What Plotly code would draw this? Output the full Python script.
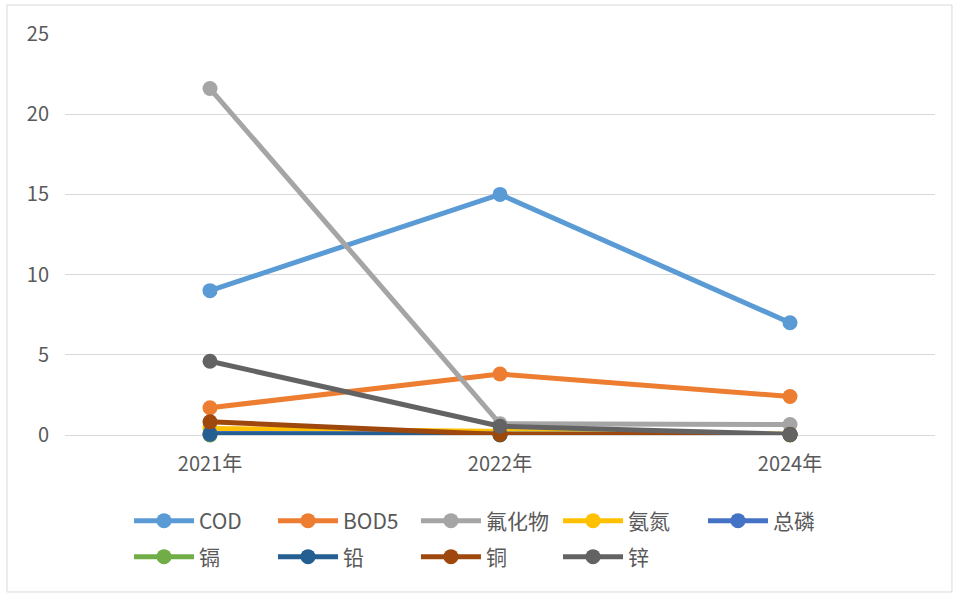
import plotly.graph_objects as go

years = ["2021年", "2022年", "2024年"]

cod = [9.0, 15.0, 7.0]
bod5 = [1.7, 3.8, 2.4]
fluoride = [21.6, 0.7, 0.65]
ammonia = [0.4, 0.25, 0.05]
total_p = [0.1, 0.05, 0.03]
cadmium = [0.005, 0.005, 0.005]
lead = [0.05, 0.02, 0.02]
copper = [0.82, 0.03, 0.03]
zinc = [4.6, 0.55, 0.05]

series = [
    ("COD", cod, "#5B9BD5"),
    ("BOD5", bod5, "#ED7D31"),
    ("氟化物", fluoride, "#A5A5A5"),
    ("氨氮", ammonia, "#FFC000"),
    ("总磷", total_p, "#4472C4"),
    ("镉", cadmium, "#70AD47"),
    ("铅", lead, "#255E91"),
    ("铜", copper, "#9E480E"),
    ("锌", zinc, "#636363"),
]

# legend slots: five entries on the first row, four on the second
legend_cols = [0.0736, 0.2391, 0.4034, 0.5667, 0.7333]
legend_rows = [-0.2145, -0.3043]

font_family = "Noto Sans CJK SC, Noto Sans, sans-serif"

fig = go.Figure()
legend_layouts = {}
for i, (name, vals, color) in enumerate(series):
    key = "legend" if i == 0 else f"legend{i + 1}"
    fig.add_trace(go.Scatter(
        x=years, y=vals, name=name, mode="lines+markers",
        line=dict(color=color, width=5),
        marker=dict(color=color, size=15),
        cliponaxis=False,
        legend=key,
    ))
    row, col = divmod(i, 5)
    legend_layouts[key] = dict(
        orientation="h", x=legend_cols[col], xanchor="left",
        y=legend_rows[row], yanchor="middle",
        font=dict(size=21, color="#595959", family=font_family),
        itemwidth=60, bgcolor="rgba(0,0,0,0)", borderwidth=0,
    )

fig.update_layout(
    width=953, height=595,
    margin=dict(l=65, r=18, t=34, b=160),
    paper_bgcolor="white", plot_bgcolor="white",
    font=dict(family=font_family, color="#595959"),
    showlegend=True,
    xaxis=dict(
        type="category", range=[-0.5, 2.5],
        showgrid=False, zeroline=False, showline=False,
        tickfont=dict(size=20, color="#595959"), ticks="",
        ticklabelstandoff=15,
    ),
    yaxis=dict(
        range=[0, 25], tickvals=[0, 5, 10, 15, 20, 25],
        showgrid=True, gridcolor="#D9D9D9", gridwidth=1,
        zeroline=True, zerolinecolor="#D9D9D9", zerolinewidth=1,
        showline=False, ticks="",
        tickfont=dict(size=20, color="#595959"),
        ticklabelstandoff=15,
    ),
    shapes=[dict(
        type="rect", xref="paper", yref="paper",
        x0=-0.0667, x1=1.0195, y0=-0.3915, y1=1.0723,
        line=dict(color="#D9D9D9", width=1), fillcolor="rgba(0,0,0,0)",
        layer="below",
    )],
    **legend_layouts,
)

fig.write_html("out.html")
